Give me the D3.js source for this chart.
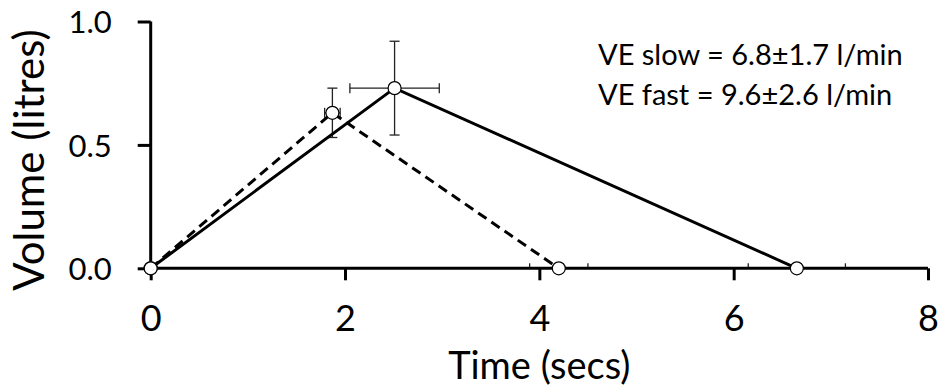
<!DOCTYPE html>
<html>
<head>
<meta charset="utf-8">
<script src="https://cdn.jsdelivr.net/npm/d3@7"></script>
<style>
  html, body { margin: 0; padding: 0; background: #fff; }
  svg { display: block; font-family: Lato, "Open Sans", sans-serif; }
</style>
</head>
<body>
<svg id="chart" width="943" height="385"></svg>
<script>
// Breath volume profiles: inspiration up to the peak, expiration back to zero
const slowTime    = [0, 2.51, 6.65];
const slowVolume  = [0, 0.73, 0];
const slowTimeErr = [0, 0.46, 0.50];
const slowVolErr  = [0, 0.19, 0];

const fastTime    = [0, 1.87, 4.20];
const fastVolume  = [0, 0.63, 0];
const fastTimeErr = [0, 0.08, 0.30];
const fastVolErr  = [0, 0.10, 0];

const xTicks = [0, 2, 4, 6, 8];
const yTicks = [0, 0.5, 1.0];

const notes = ["VE slow = 6.8\u00b11.7 l/min", "VE fast = 9.6\u00b12.6 l/min"];

const svg = d3.select("#chart");
const x = d3.scaleLinear().domain([0, 8]).range([150.7, 928]);
const y = d3.scaleLinear().domain([0, 1]).range([268.3, 21.5]);

const toPoints = (t, v, te, ve) => t.map((d, i) => ({ t: d, v: v[i], te: te[i], ve: ve[i] }));
const series = [
  { name: "slow", pts: toPoints(slowTime, slowVolume, slowTimeErr, slowVolErr), dash: null },
  { name: "fast", pts: toPoints(fastTime, fastVolume, fastTimeErr, fastVolErr), dash: "10,6" }
];

// error bars (drawn first so the axis line sits over the caps on the baseline)
const eb = svg.append("g").attr("stroke", "#222").attr("stroke-width", 1.3).attr("fill", "none");
const cap = 5;
series.forEach(s => {
  s.pts.forEach(p => {
    if (p.te > 0) {
      eb.append("line").attr("x1", x(p.t - p.te)).attr("x2", x(p.t + p.te)).attr("y1", y(p.v)).attr("y2", y(p.v));
      [p.t - p.te, p.t + p.te].forEach(e =>
        eb.append("line").attr("x1", x(e)).attr("x2", x(e)).attr("y1", y(p.v) - cap).attr("y2", y(p.v) + (p.v === 0 ? 0 : cap)));
    }
    if (p.ve > 0) {
      eb.append("line").attr("x1", x(p.t)).attr("x2", x(p.t)).attr("y1", y(p.v - p.ve)).attr("y2", y(p.v + p.ve));
      [p.v - p.ve, p.v + p.ve].forEach(e =>
        eb.append("line").attr("x1", x(p.t) - cap).attr("x2", x(p.t) + cap).attr("y1", y(e)).attr("y2", y(e)));
    }
  });
});

// axes
const xAxis = d3.axisBottom(x).tickValues(xTicks).tickSize(12).tickFormat(d3.format("d"));
const yAxis = d3.axisLeft(y).tickValues(yTicks).tickSize(13).tickFormat(d3.format(".1f"));

const gx = svg.append("g").attr("transform", `translate(0,${y(0)})`).call(xAxis);
const gy = svg.append("g").attr("transform", `translate(${x(0)},0)`).call(yAxis);
[gx, gy].forEach(g => {
  g.select(".domain").attr("stroke", "#000").attr("stroke-width", 3);
  g.selectAll(".tick line").attr("stroke", "#000").attr("stroke-width", 3);
  g.selectAll(".tick text").attr("fill", "#000").attr("font-family", "Lato, sans-serif");
});
gx.select(".domain").attr("d", `M${x(0)},0H${x(8)}`);
gy.select(".domain").attr("d", `M0,${y(1)}H0V${y(0)}`);
gx.selectAll(".tick text").attr("font-size", 36).attr("dy", null).attr("y", 63);
gy.selectAll(".tick text").attr("font-size", 31).attr("dy", "0.36em").attr("x", -39);

// lines
const line = d3.line().x(d => x(d.t)).y(d => y(d.v));
series.forEach(s => {
  svg.append("path").datum(s.pts).attr("d", line)
    .attr("fill", "none").attr("stroke", "#000").attr("stroke-width", 3)
    .attr("stroke-dasharray", s.dash);
});

// markers
series.forEach(s => {
  svg.append("g").selectAll("circle").data(s.pts).join("circle")
    .attr("cx", d => x(d.t)).attr("cy", d => y(d.v)).attr("r", 6.5)
    .attr("fill", "#fff").attr("stroke", "#000").attr("stroke-width", 1.2);
});

// annotations
svg.append("g").selectAll("text").data(notes).join("text")
  .attr("x", 598).attr("y", (d, i) => 65 + i * 40)
  .attr("font-size", 29).attr("fill", "#000").text(d => d);

// axis titles
svg.append("text").attr("x", (x(0) + x(8)) / 2).attr("y", 378.5)
  .attr("text-anchor", "middle").attr("font-size", 38).attr("fill", "#000").text("Time (secs)");
svg.append("text").attr("transform", "translate(44,160) rotate(-90)")
  .attr("text-anchor", "middle").attr("font-size", 42).attr("fill", "#000").text("Volume (litres)");
</script>
</body>
</html>
